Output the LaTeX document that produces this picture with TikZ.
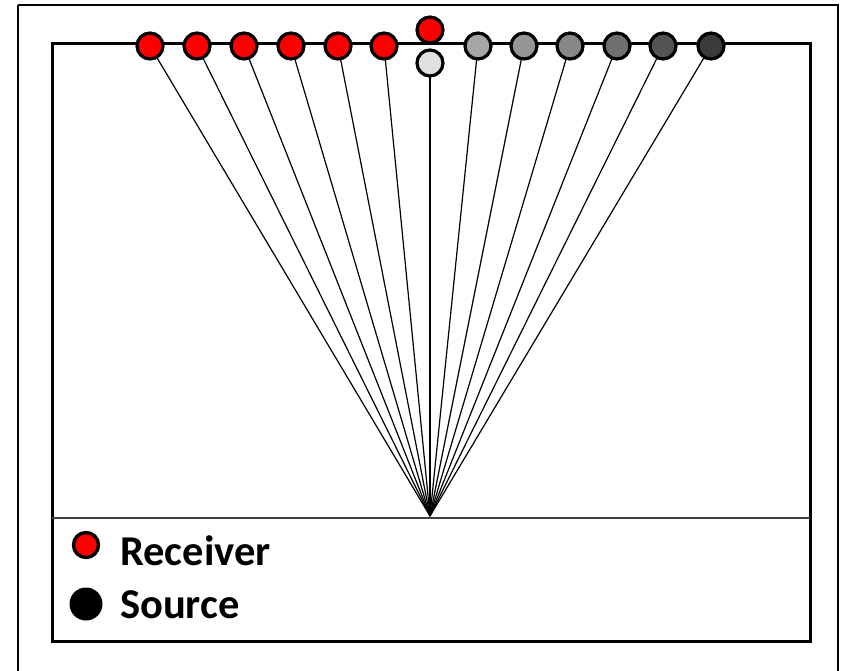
\documentclass[tikz,border=0pt]{standalone}
\usepackage{fontspec}
\setmainfont{Carlito}
\usetikzlibrary{backgrounds}
\definecolor{recred}{RGB}{250,0,0}
\tikzset{
  sensor/.style={circle, draw=black, line width=3.2pt, minimum size=26pt, inner sep=0pt},
  receiver/.style={sensor, fill=recred},
  ray/.style={line width=1.2pt, black},
  frame/.style={line width=3pt, black},
  legendtext/.style={anchor=base west, inner sep=0pt, font=\fontsize{42.5}{48}\selectfont\bfseries}
}
\begin{document}
\begin{tikzpicture}[x=1pt, y=-1pt]
  \useasboundingbox (0,0) rectangle (843,671);
  % outer frame
  \draw[line width=2pt] (18,5) -- (838,5) -- (838,690) (18,5) -- (18,690);
  % inner panel and divider
  \draw[frame] (52,44) rectangle (810,641);
  \draw[line width=1.8pt, black!75] (52,518) -- (810,518);
  \coordinate (apex) at (430,516);
  % receivers on the surface
  \foreach \i/\x in {1/150,2/197,3/244,4/291,5/338,6/384}
    \node[receiver] (r\i) at (\x,46) {};
  \node[receiver] (r7) at (430,30) {};
  \node[sensor, fill=black!12] (s0) at (430,63) {};
  % sources, darkening outward
  \foreach \i/\x/\g in {1/478/35,2/524/41,3/570/47,4/617/56,5/663/67,6/711/77}
    \node[sensor, fill=black!\g] (s\i) at (\x,46) {};
  % white ground, then rays to the common point, behind the sensors
  \begin{scope}[on background layer]
    \fill[white] (0,0) rectangle (843,671);
    \foreach \n in {r1,r2,r3,r4,r5,r6,s0,s1,s2,s3,s4,s5,s6}
      \draw[ray] (\n.center) -- (apex);
  \end{scope}
  % legend
  \node[circle, draw=black, line width=3.4pt, fill=recred, minimum size=25pt, inner sep=0pt] (legrec) at (86,545) {};
  \node[circle, fill=black, minimum size=33pt, inner sep=0pt] (legsrc) at (86,604) {};
  \node[legendtext] (lrec) at (120,565) {Receiver};
  \node[legendtext] (lsrc) at (120,618) {Source};
\end{tikzpicture}
\end{document}
